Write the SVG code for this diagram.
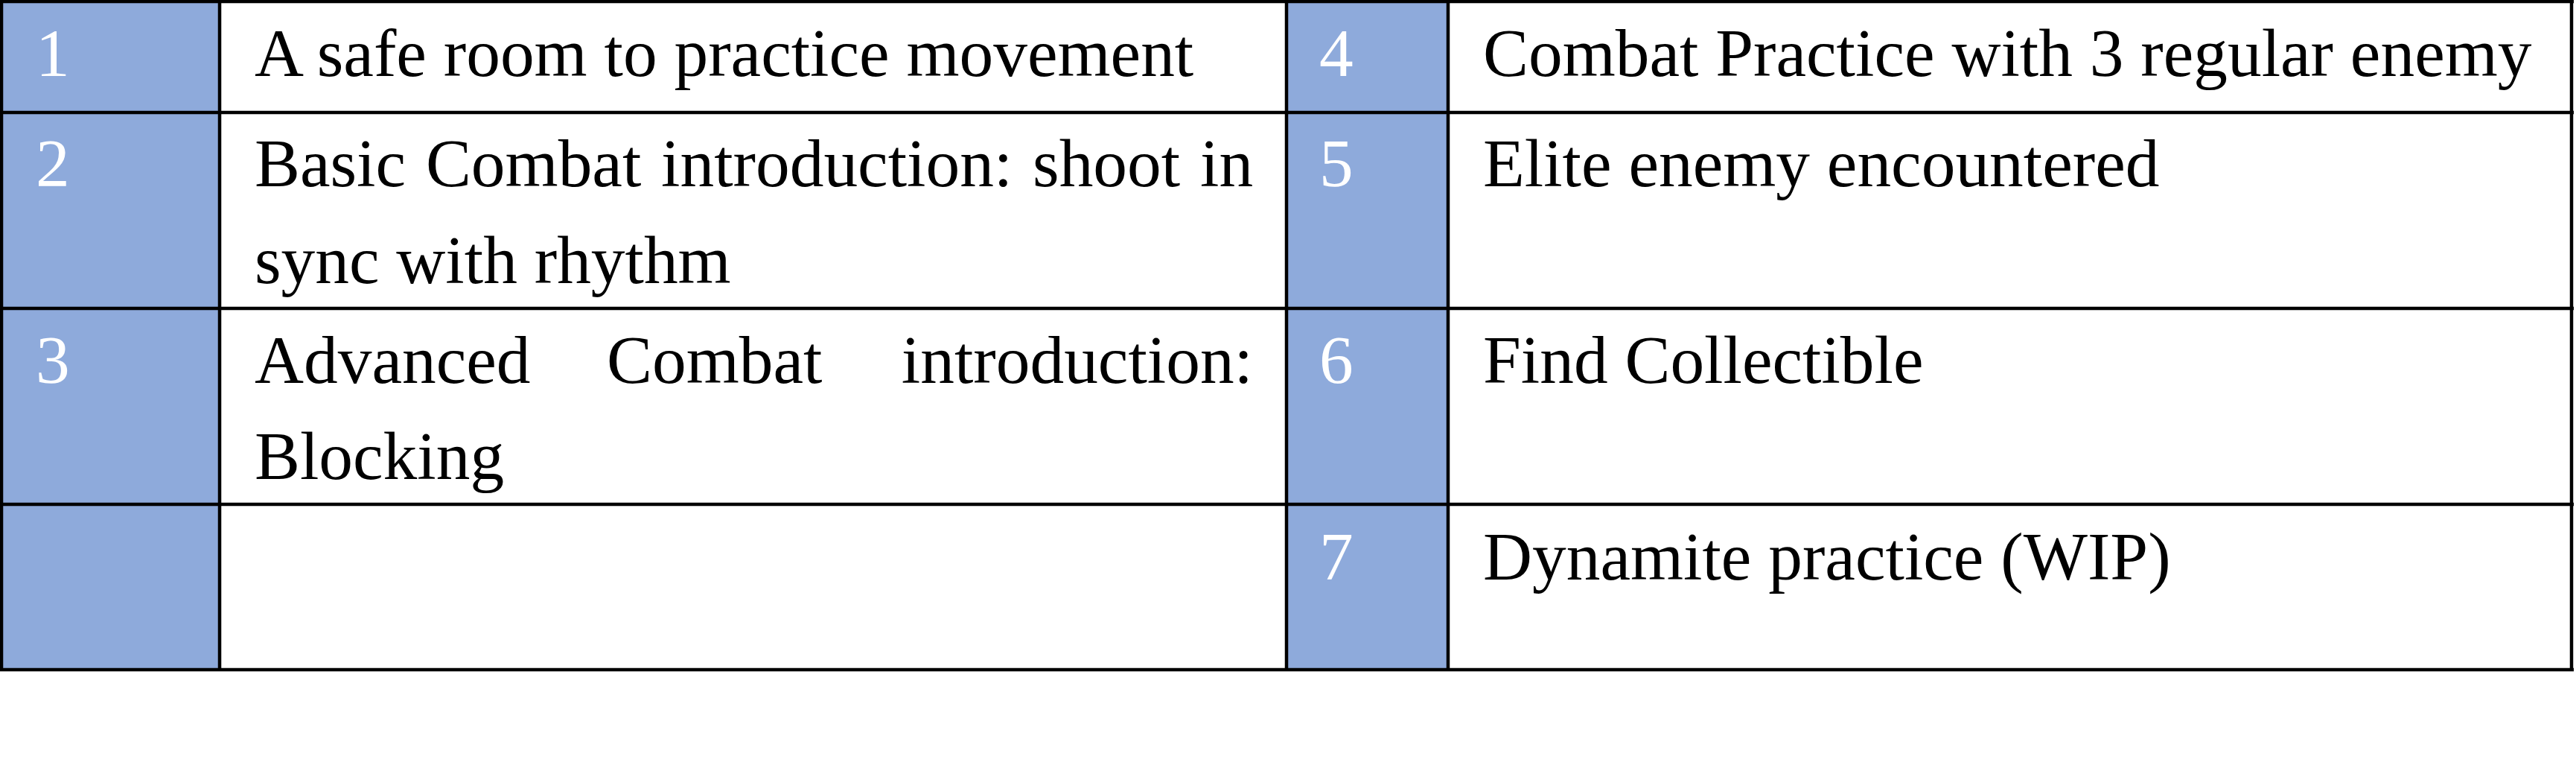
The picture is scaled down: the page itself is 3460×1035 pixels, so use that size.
<svg xmlns="http://www.w3.org/2000/svg" width="3460" height="1035" viewBox="0 0 3460 1035">
<style>
.num{fill:#8EAADB}
.txt{font-family:"Liberation Serif","Times New Roman",serif;font-size:91.4px;fill:#000}
.ntxt{font-family:"Liberation Serif","Times New Roman",serif;font-size:91.4px;fill:#fff}
.grid line{stroke:#000;stroke-width:4.5}
</style>
<rect x="0" y="0" width="3460" height="1035" fill="#fff"/>
<g id="col-num-left"><rect class="num" x="4" y="4" width="289" height="893"/></g>
<g id="col-num-right"><rect class="num" x="1730" y="4" width="213" height="893"/></g>
<g id="n1"><text class="ntxt" x="48" y="102">1</text><text class="txt" x="342" y="102">A safe room to practice movement</text></g>
<g id="n2"><text class="ntxt" x="48" y="250">2</text><text class="txt" x="342" y="250" word-spacing="4">Basic Combat introduction: shoot in</text><text class="txt" x="342" y="380">sync with rhythm</text></g>
<g id="n3"><text class="ntxt" x="48" y="514">3</text><text class="txt" x="342" y="514">Advanced</text><text class="txt" x="815" y="514">Combat</text><text class="txt" x="1683" y="514" text-anchor="end">introduction:</text><text class="txt" x="342" y="643">Blocking</text></g>
<g id="n4"><text class="ntxt" x="1772" y="102">4</text><text class="txt" x="1992" y="102">Combat Practice with 3 regular enemy</text></g>
<g id="n5"><text class="ntxt" x="1772" y="250">5</text><text class="txt" x="1992" y="250">Elite enemy encountered</text></g>
<g id="n6"><text class="ntxt" x="1772" y="514">6</text><text class="txt" x="1992" y="514">Find Collectible</text></g>
<g id="n7"><text class="ntxt" x="1772" y="778">7</text><text class="txt" x="1992" y="778">Dynamite practice (WIP)</text></g>
<g id="grid" class="grid">
<line x1="0" y1="2" x2="3457" y2="2"/>
<line x1="0" y1="151" x2="3457" y2="151"/>
<line x1="0" y1="414" x2="3457" y2="414"/>
<line x1="0" y1="677" x2="3457" y2="677"/>
<line x1="0" y1="899" x2="3457" y2="899"/>
<line x1="2" y1="0" x2="2" y2="901"/>
<line x1="295" y1="0" x2="295" y2="901"/>
<line x1="1728" y1="0" x2="1728" y2="901"/>
<line x1="1945" y1="0" x2="1945" y2="901"/>
<line x1="3454" y1="0" x2="3454" y2="901"/>
</g>
</svg>
